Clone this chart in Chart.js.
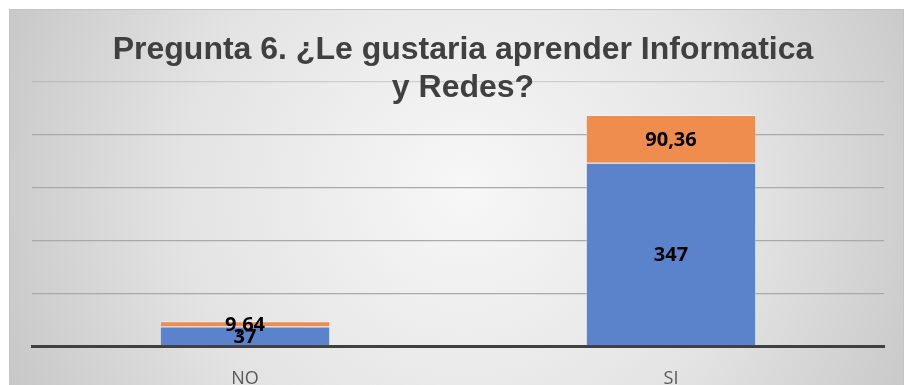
<!DOCTYPE html>
<html>
<head>
<meta charset="utf-8">
<script src="https://cdn.jsdelivr.net/npm/chart.js@4/dist/chart.umd.min.js"></script>
<style>
  html, body { margin: 0; padding: 0; background: #fff; }
  #wrap { width: 905px; height: 385px; }
</style>
</head>
<body>
<div id="wrap"><canvas id="myChart"></canvas></div>
<script>
const categories = ['NO', 'SI'];
const countValues = [37, 347];
const percentValues = [9.64, 90.36];
const yMax = 500;
const yStep = 100;
const titleLines = ['Pregunta 6. ¿Le gustaria aprender Informatica', 'y Redes?'];

// background box with soft radial shading
const backgroundBox = {
    id: 'backgroundBox',
    beforeDraw(chart) {
        const c = chart.ctx;
        c.save();
        c.fillStyle = '#ffffff';
        c.fillRect(0, 0, chart.width, chart.height);
        const g = c.createRadialGradient(465, 190, 0, 465, 190, 520);
        g.addColorStop(0, '#f7f7f7');
        g.addColorStop(0.55, '#e3e3e3');
        g.addColorStop(1, '#c4c4c4');
        c.fillStyle = g;
        c.fillRect(9, 9, chart.width - 10, chart.height);
        c.strokeStyle = '#c4c4c4';
        c.lineWidth = 1;
        c.strokeRect(9.5, 9.5, chart.width - 11, chart.height + 5);
        c.restore();
    }
};

// centred labels inside each bar segment
const barLabels = {
    id: 'barLabels',
    afterDatasetsDraw(chart) {
        const c = chart.ctx;
        c.save();
        c.font = 'bold 20px "Open Sans"';
        c.fillStyle = '#000000';
        c.textAlign = 'center';
        c.textBaseline = 'middle';
        chart.data.datasets.forEach((ds, i) => {
            chart.getDatasetMeta(i).data.forEach((bar, j) => {
                const text = String(ds.data[j]).replace('.', ',');
                c.fillText(text, bar.x, (bar.y + bar.base) / 2 + 1);
            });
        });
        c.restore();
    }
};

// title is drawn over the plot area like in the original
const overTitle = {
    id: 'overTitle',
    afterDraw(chart) {
        const c = chart.ctx;
        c.save();
        c.font = 'bold 32px "Liberation Sans", Arial, sans-serif';
        c.fillStyle = '#404040';
        c.textAlign = 'center';
        c.textBaseline = 'alphabetic';
        c.fillText(titleLines[0], 463, 59);
        c.fillText(titleLines[1], 463, 97);
        c.restore();
    }
};

const ctx = document.getElementById('myChart').getContext('2d');

const chart = new Chart(ctx, {
    type: 'bar',
    data: {
        labels: categories,
        datasets: [{
            data: countValues,
            backgroundColor: '#5b83cc',
            borderColor: 'rgba(255,255,255,0.45)',
            borderWidth: 1,
            barPercentage: 0.4,
            categoryPercentage: 1.0
        }, {
            data: percentValues,
            backgroundColor: '#ee8d4d',
            borderColor: 'rgba(255,255,255,0.45)',
            borderWidth: 1,
            barPercentage: 0.4,
            categoryPercentage: 1.0
        }]
    },
    options: {
        responsive: true,
        maintainAspectRatio: false,
        animation: false,
        layout: {
            padding: { left: 32, right: 21, top: 82, bottom: 0 }
        },
        plugins: {
            legend: { display: false },
            title: { display: false },
            tooltip: { enabled: false }
        },
        scales: {
            x: {
                stacked: true,
                grid: { display: false },
                border: { color: '#404040', width: 3 },
                ticks: {
                    color: '#595959',
                    font: { family: '"Open Sans"', size: 18 },
                    padding: 14
                },
                afterFit: scale => { scale.height = 39; }
            },
            y: {
                stacked: true,
                min: 0,
                max: yMax,
                ticks: { display: false, stepSize: yStep },
                border: { display: false },
                grid: {
                    drawTicks: false,
                    color: c => {
                        if (!c.tick || c.tick.value === 0) return 'rgba(0,0,0,0)';
                        return c.tick.value === yMax ? 'rgba(150,150,150,0.35)' : '#a9a9a9';
                    },
                    lineWidth: 1.3
                },
                afterFit: scale => { scale.width = 0; }
            }
        }
    },
    plugins: [backgroundBox, barLabels, overTitle]
});
</script>
</body>
</html>
